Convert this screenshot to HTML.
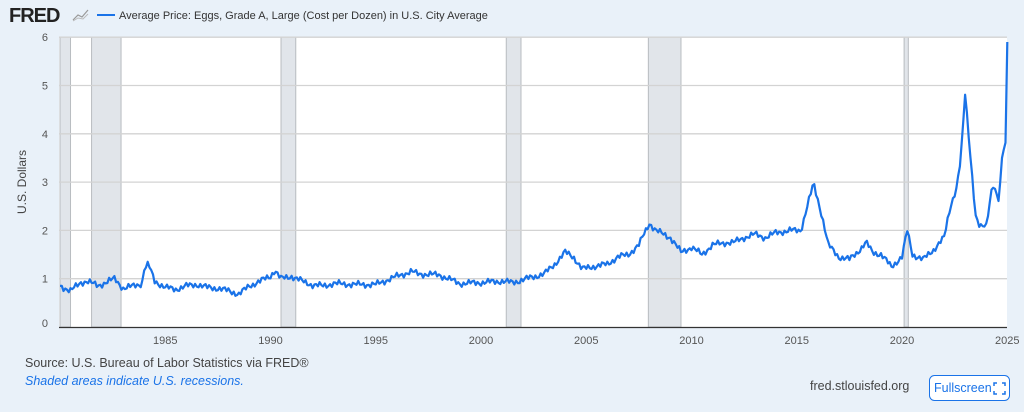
<!DOCTYPE html>
<html><head><meta charset="utf-8"><style>
body{margin:0;background:#e9f1f9;width:1024px;height:407px;overflow:hidden;font-family:"Liberation Sans",sans-serif;}
</style></head><body>
<svg width="1024" height="407" xmlns="http://www.w3.org/2000/svg" font-family="Liberation Sans, sans-serif">
<rect width="1024" height="407" fill="#e9f1f9"/>
<text x="9" y="22" font-size="20" font-weight="bold" fill="#222" letter-spacing="-1">FRED</text>
<polyline points="73,20 78,15 82,17 88,10" fill="none" stroke="#999" stroke-width="1.2"/>
<polyline points="73,21 78,18 83,19 88,14" fill="none" stroke="#bbb" stroke-width="1"/>
<line x1="97" y1="15" x2="115" y2="15" stroke="#1a73e8" stroke-width="2"/>
<text x="119" y="19" font-size="11" fill="#333">Average Price: Eggs, Grade A, Large (Cost per Dozen) in U.S. City Average</text>
<rect x="59" y="37" width="948" height="290" fill="#fff"/>
<g id="rec" fill="#e1e5ea" stroke="#b8bcc0" stroke-width="1"></g>
<g stroke="#d3d3d3" stroke-width="1.3" id="grid"></g>
<line x1="59" y1="327.5" x2="1007" y2="327.5" stroke="#333" stroke-width="1.3"/>
<g font-size="11" fill="#555" id="lbl"></g>
<text transform="translate(26,182) rotate(-90)" text-anchor="middle" font-size="12" fill="#444">U.S. Dollars</text>
<polyline id="ser" fill="none" stroke="#1a73e8" stroke-width="2.2" stroke-linejoin="round"/>
<text x="25" y="367" font-size="12.5" fill="#444">Source: U.S. Bureau of Labor Statistics via FRED®</text>
<text x="25" y="385" font-size="12.5" fill="#1a73e8" font-style="italic">Shaded areas indicate U.S. recessions.</text>
<text x="810" y="390" font-size="12.5" fill="#444">fred.stlouisfed.org</text>
<rect x="929.5" y="375.5" width="80" height="25" rx="5" fill="#fff" stroke="#1a73e8"/>
<text x="934" y="392" font-size="12.5" fill="#1a73e8">Fullscreen</text>
<path d="M994 386v-3h3M1002 383h3v3M1005 391v3h-3M997 394h-3v-3" fill="none" stroke="#1a73e8" stroke-width="1.5"/>
</svg>
<script>
const X=y=>60+(y-1980)*21.05, Y=v=>327-v*48.3;
const ns="http://www.w3.org/2000/svg";
function el(p,t,a,txt){const e=document.createElementNS(ns,t);for(const k in a)e.setAttribute(k,a[k]);if(txt!==undefined)e.textContent=String(txt);document.getElementById(p).appendChild(e);}
[[1980,1980.5],[1981.5,1982.9],[1990.5,1991.2],[2001.2,2001.9],[2007.95,2009.5],[2020.1,2020.3]].forEach(r=>el('rec','rect',{x:X(r[0]),y:37,width:X(r[1])-X(r[0]),height:290}));
for(let v=1;v<=6;v++){el('grid','line',{x1:59,x2:1007,y1:Y(v),y2:Y(v)});}
for(let v=0;v<=6;v++)el('lbl','text',{x:48,y:Y(v)+(v==0?0:4),'text-anchor':'end'},v);
for(let y=1985;y<=2025;y+=5)el('lbl','text',{x:X(y),y:344,'text-anchor':'middle'},y);
const k=[[1980,.85],[1980.5,.75],[1981,.92],[1981.3,.95],[1981.8,.85],[1982.3,.95],[1982.6,1.0],[1983,.8],[1983.5,.85],[1983.9,.9],[1984,1.2],[1984.2,1.3],[1984.5,.95],[1985,.82],[1985.5,.78],[1986,.85],[1986.5,.88],[1987,.82],[1987.5,.8],[1988,.75],[1988.5,.68],[1989,.85],[1989.5,.95],[1990,1.05],[1990.2,1.18],[1990.5,1.0],[1991,1.05],[1991.5,.95],[1992,.87],[1992.5,.85],[1993,.9],[1994,.88],[1995,.88],[1996,1.05],[1996.7,1.15],[1997,1.1],[1998,1.08],[1999,.9],[2000,.92],[2001,.95],[2001.5,.92],[2002,.98],[2003,1.1],[2003.5,1.3],[2004,1.55],[2004.4,1.45],[2004.8,1.2],[2005.3,1.25],[2006,1.3],[2006.5,1.45],[2007,1.5],[2007.5,1.7],[2008,2.15],[2008.3,2.0],[2009,1.85],[2009.5,1.55],[2010,1.65],[2010.5,1.5],[2011,1.7],[2011.7,1.75],[2012,1.75],[2012.5,1.85],[2013,1.92],[2013.5,1.85],[2014,1.95],[2014.7,2.0],[2015.2,2.0],[2015.5,2.5],[2015.8,2.97],[2016.2,2.3],[2016.5,1.7],[2017,1.45],[2017.5,1.4],[2018,1.6],[2018.3,1.75],[2018.6,1.55],[2019,1.5],[2019.5,1.25],[2020,1.45],[2020.25,2.0],[2020.5,1.5],[2021,1.4],[2021.5,1.6],[2022,1.85],[2022.3,2.5],[2022.6,2.9],[2022.8,3.5],[2023,4.82],[2023.2,3.8],[2023.5,2.3],[2023.7,2.05],[2024,2.1],[2024.3,2.99],[2024.6,2.6],[2024.8,3.8],[2024.9,3.4],[2025.0,5.9]];
let pts=[];
for(let i=0;i<=540;i++){const t=1980+i/12;let j=0;while(j<k.length-2&&k[j+1][0]<t)j++;const a=k[j],b=k[j+1];let f=(t-a[0])/(b[0]-a[0]);f=Math.max(0,Math.min(1,f));let v=a[1]+(b[1]-a[1])*f;if(i<536)v+=0.045*Math.sin(i*2.3)+0.03*Math.sin(i*5.7);pts.push(X(t).toFixed(1)+','+Y(v).toFixed(1));}
document.getElementById('ser').setAttribute('points',pts.join(' '));
</script>
</body></html>
